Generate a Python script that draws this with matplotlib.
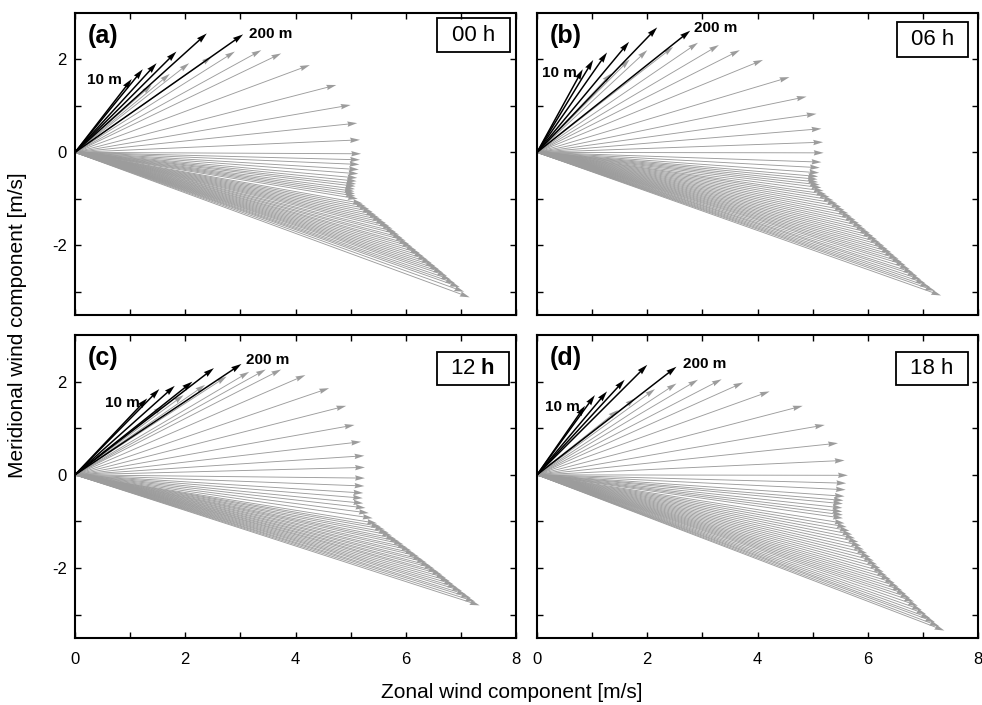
import numpy as np
import matplotlib.pyplot as plt
from matplotlib.patches import Rectangle

# === fonts ===
plt.rcParams["font.family"] = ["Liberation Sans", "DejaVu Sans"]
plt.rcParams["mathtext.fontset"] = "custom"
plt.rcParams["mathtext.rm"] = "Liberation Sans"
plt.rcParams["mathtext.bf"] = "Liberation Sans:bold"
plt.rcParams["axes.unicode_minus"] = False

# === data: wind vector tips (u, v) in m/s ===
panel_names = ["(a)", "(b)", "(c)", "(d)"]
time_labels = ["00 h", "06 h", r"12 $\mathbf{h}$", "18 h"]

# black arrows: 10 m ... 200 m
u_a_black = [1.03, 1.23, 1.48, 1.84, 2.39, 3.05]
v_a_black = [1.58, 1.79, 1.92, 2.17, 2.56, 2.54]
u_b_black = [0.83, 1.02, 1.27, 1.67, 2.18, 2.78]
v_b_black = [1.79, 1.99, 2.15, 2.38, 2.69, 2.62]
u_c_black = [1.31, 1.53, 1.81, 2.13, 2.52, 3.02]
v_c_black = [1.64, 1.84, 1.91, 2.00, 2.29, 2.38]
u_d_black = [0.87, 1.05, 1.27, 1.59, 2.00, 2.53]
v_d_black = [1.48, 1.71, 1.79, 2.04, 2.36, 2.32]

# grey arrows: higher levels
u_a_gray = [1.39, 1.72, 2.07, 2.48, 2.90, 3.38, 3.74, 4.26, 4.74, 5.00,
            5.12, 5.17, 5.19, 5.17, 5.16, 5.15, 5.14, 5.12, 5.11, 5.10,
            5.09, 5.08, 5.07, 5.08, 5.09, 5.13,
            5.22, 5.28, 5.34, 5.40, 5.46, 5.52, 5.58, 5.64, 5.70, 5.76,
            5.82, 5.88, 5.94, 6.00, 6.06, 6.12, 6.19, 6.26, 6.33, 6.40,
            6.47, 6.54, 6.61, 6.68, 6.75, 6.82, 6.90, 6.98, 7.06, 7.16]
v_a_gray = [1.45, 1.69, 1.92, 2.06, 2.17, 2.20, 2.13, 1.88, 1.45, 1.02,
            0.63, 0.27, -0.03, -0.16, -0.26, -0.37, -0.46, -0.55, -0.62, -0.68,
            -0.73, -0.79, -0.84, -0.89, -0.94, -1.00,
            -1.10, -1.16, -1.22, -1.28, -1.34, -1.40, -1.46, -1.52, -1.58, -1.64,
            -1.71, -1.77, -1.84, -1.90, -1.97, -2.03, -2.10, -2.17, -2.24, -2.31,
            -2.38, -2.45, -2.52, -2.59, -2.66, -2.74, -2.82, -2.90, -3.00, -3.12]

u_b_gray = [1.35, 1.68, 2.00, 2.47, 2.92, 3.30, 3.68, 4.10, 4.58, 4.89,
            5.07, 5.16, 5.19, 5.20, 5.16, 5.13, 5.12, 5.10, 5.09, 5.10,
            5.13, 5.16, 5.20, 5.25, 5.31, 5.38,
            5.45, 5.52, 5.58, 5.65, 5.71, 5.78, 5.84, 5.91, 5.97, 6.04,
            6.10, 6.17, 6.23, 6.30, 6.36, 6.43, 6.49, 6.56, 6.62, 6.69,
            6.76, 6.83, 6.90, 6.97, 7.05, 7.13, 7.22, 7.33]
v_b_gray = [1.70, 2.00, 2.20, 2.27, 2.36, 2.31, 2.20, 1.99, 1.62, 1.20,
            0.83, 0.51, 0.22, -0.01, -0.21, -0.33, -0.44, -0.52, -0.58, -0.64,
            -0.70, -0.76, -0.83, -0.90, -0.96, -1.03,
            -1.10, -1.17, -1.24, -1.31, -1.38, -1.45, -1.52, -1.59, -1.66, -1.73,
            -1.80, -1.87, -1.94, -2.01, -2.08, -2.15, -2.22, -2.29, -2.36, -2.43,
            -2.51, -2.59, -2.66, -2.74, -2.82, -2.90, -2.98, -3.08]

u_c_gray = [1.60, 1.97, 2.36, 2.75, 3.16, 3.46, 3.74, 4.18, 4.61, 4.92,
            5.07, 5.19, 5.25, 5.26, 5.26, 5.25, 5.23, 5.22, 5.23, 5.27,
            5.33, 5.40, 5.48,
            5.55, 5.62, 5.69, 5.75, 5.82, 5.89, 5.96, 6.03, 6.10, 6.17,
            6.24, 6.31, 6.38, 6.45, 6.52, 6.59, 6.66, 6.73, 6.80, 6.87,
            6.94, 7.02, 7.10, 7.18, 7.26, 7.34]
v_c_gray = [1.48, 1.71, 1.93, 2.11, 2.21, 2.26, 2.26, 2.14, 1.86, 1.48,
            1.07, 0.71, 0.41, 0.16, -0.07, -0.24, -0.39, -0.50, -0.61, -0.71,
            -0.82, -0.93, -1.04,
            -1.11, -1.17, -1.24, -1.30, -1.37, -1.43, -1.49, -1.56, -1.62, -1.69,
            -1.75, -1.82, -1.88, -1.95, -2.01, -2.08, -2.14, -2.21, -2.28, -2.35,
            -2.42, -2.49, -2.57, -2.64, -2.72, -2.80]

u_d_gray = [1.47, 1.78, 2.14, 2.53, 2.92, 3.35, 3.74, 4.22, 4.82, 5.22,
            5.46, 5.58, 5.64, 5.61, 5.60, 5.58, 5.56, 5.55, 5.54, 5.54,
            5.55, 5.55, 5.58,
            5.62, 5.67, 5.72, 5.77, 5.83, 5.88, 5.93, 5.99, 6.05, 6.11,
            6.17, 6.23, 6.29, 6.35, 6.42, 6.49, 6.56, 6.63, 6.70, 6.77,
            6.84, 6.91, 6.98, 7.06, 7.14, 7.22, 7.30, 7.39]
v_d_gray = [1.39, 1.64, 1.84, 1.96, 2.04, 2.05, 1.98, 1.79, 1.48, 1.07,
            0.68, 0.31, -0.01, -0.18, -0.32, -0.46, -0.55, -0.62, -0.71, -0.79,
            -0.86, -0.93, -1.04,
            -1.12, -1.20, -1.28, -1.36, -1.44, -1.52, -1.60, -1.68, -1.76, -1.84,
            -1.92, -2.00, -2.08, -2.16, -2.24, -2.32, -2.40, -2.48, -2.56, -2.64,
            -2.72, -2.81, -2.90, -2.99, -3.08, -3.16, -3.25, -3.34]

black_u = [u_a_black, u_b_black, u_c_black, u_d_black]
black_v = [v_a_black, v_b_black, v_c_black, v_d_black]
gray_u = [u_a_gray, u_b_gray, u_c_gray, u_d_gray]
gray_v = [v_a_gray, v_b_gray, v_c_gray, v_d_gray]

# === layout (pixels of a 982 x 705 figure) ===
W, H = 982, 705
fig = plt.figure(figsize=(W / 100, H / 100), dpi=100)

ax_rects = [
    [75 / W, 1 - 315 / H, 441 / W, 302 / H],
    [537 / W, 1 - 315 / H, 441 / W, 302 / H],
    [75 / W, 1 - 638 / H, 441 / W, 303 / H],
    [537 / W, 1 - 638 / H, 441 / W, 303 / H],
]
# time box [x0, y0, w, h] in axes fraction
box_rects = [
    [0.821, 0.871, 0.165, 0.112],
    [0.816, 0.854, 0.161, 0.116],
    [0.821, 0.835, 0.163, 0.109],
    [0.814, 0.835, 0.163, 0.109],
]
# label offsets (points) for "10 m" and "200 m"
off_10 = [(-7, -1), (-4, -3), (-5, -3), (-4, -1)]
off_200 = [(4, 0), (3, 2), (3, 3), (5, 2)]

gray_col = "#9c9c9c"

for i in range(4):
    ax = fig.add_axes(ax_rects[i])

    # === grey arrows first, black on top ===
    ax.quiver(np.zeros(len(gray_u[i])), np.zeros(len(gray_u[i])), gray_u[i], gray_v[i],
              angles="xy", scale_units="xy", scale=1, units="dots",
              width=0.9, headwidth=6, headlength=11, headaxislength=10,
              color=gray_col, zorder=2)
    ax.quiver(np.zeros(len(black_u[i])), np.zeros(len(black_u[i])), black_u[i], black_v[i],
              angles="xy", scale_units="xy", scale=1, units="dots",
              width=1.5, headwidth=4, headlength=7, headaxislength=6.5,
              color="black", zorder=3)

    # === height labels ===
    ax.annotate("10 m", xy=(black_u[i][0], black_v[i][0]), xytext=off_10[i],
                textcoords="offset points", ha="right", va="center",
                fontsize=11, fontweight="bold")
    ax.annotate("200 m", xy=(black_u[i][-1], black_v[i][-1]), xytext=off_200[i],
                textcoords="offset points", ha="left", va="center",
                fontsize=11, fontweight="bold")

    # === panel letter and time box ===
    ax.text(0.028, 0.925, panel_names[i], transform=ax.transAxes,
            fontsize=18, fontweight="bold", ha="left", va="center")
    bx, by, bw, bh = box_rects[i]
    ax.add_patch(Rectangle((bx, by), bw, bh, transform=ax.transAxes,
                           fill=False, edgecolor="black", lw=1.3, zorder=5))
    ax.text(bx + bw / 2, by + bh / 2, time_labels[i], transform=ax.transAxes,
            fontsize=16, ha="center", va="center", zorder=6)

    # === axes ===
    ax.set_xlim(0, 8)
    ax.set_ylim(-3.5, 3)
    ax.set_xticks([0, 2, 4, 6, 8])
    ax.set_xticks([1, 3, 5, 7], minor=True)
    ax.set_yticks([-2, 0, 2])
    ax.set_yticks([-3, -1, 1], minor=True)
    ax.tick_params(which="both", direction="in", top=True, right=True,
                   length=4, width=1.0)
    ax.tick_params(axis="x", labelsize=12, pad=10)
    ax.tick_params(axis="y", labelsize=12, pad=6)
    for sp in ax.spines.values():
        sp.set_linewidth(1.5)
    if i in (0, 1):
        ax.tick_params(axis="x", labelbottom=False)
    if i in (1, 3):
        ax.tick_params(axis="y", labelleft=False)

fig.text(512 / W, 1 - 693 / H, "Zonal wind component [m/s]",
         ha="center", va="center", fontsize=15)
fig.text(18 / W, 1 - 325 / H, "Meridional wind component [m/s]",
         ha="center", va="center", rotation=90, fontsize=15)

fig.savefig("out.png", dpi=100)
